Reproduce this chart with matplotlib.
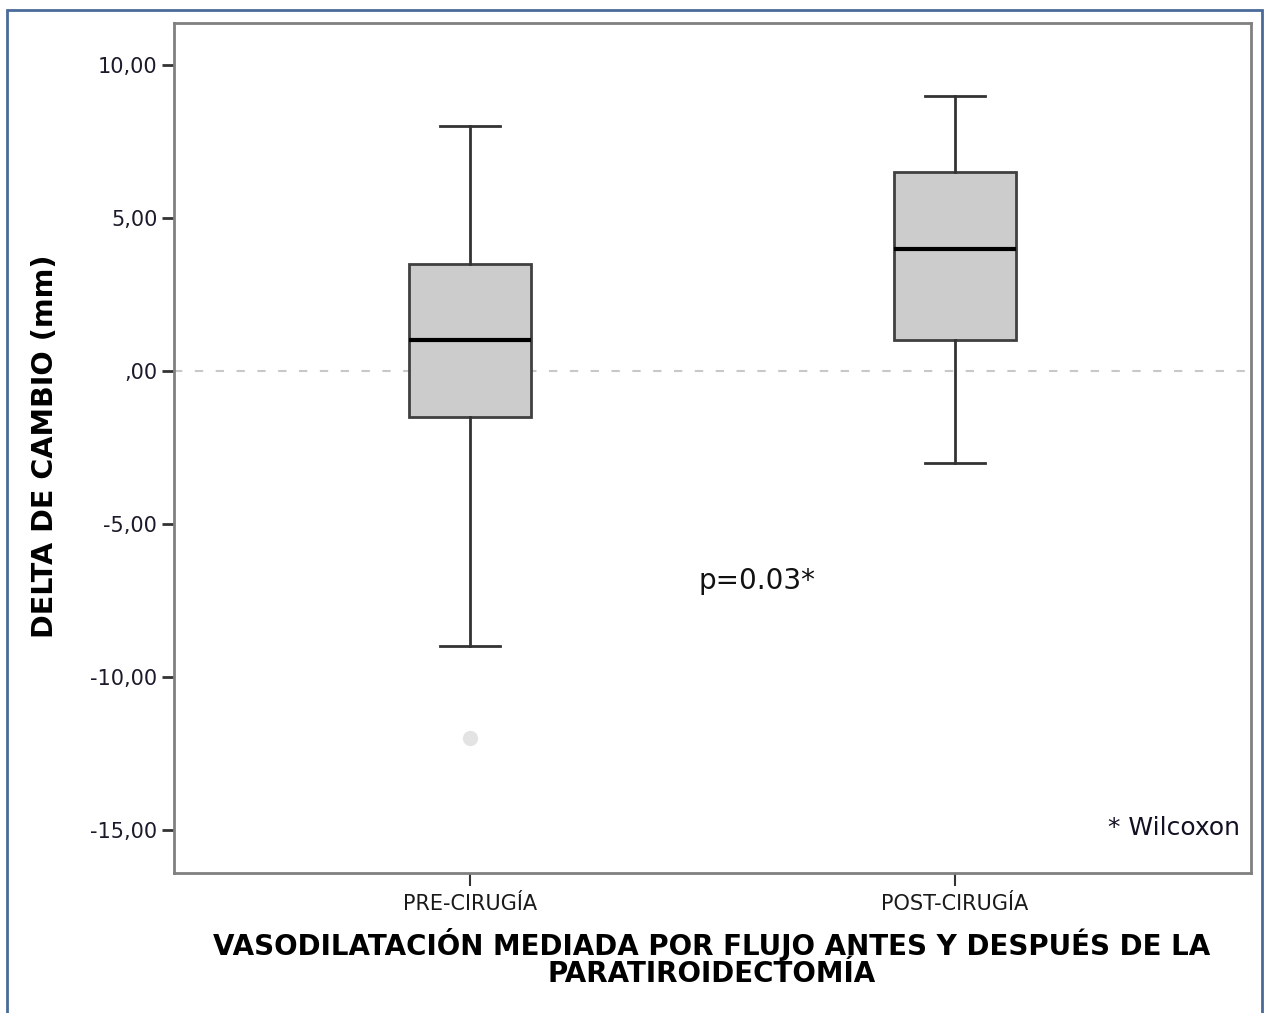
import matplotlib
matplotlib.use("Agg")
import matplotlib.pyplot as plt
from matplotlib.patches import Rectangle

# values
groups = ['PRE-CIRUGÍA', 'POST-CIRUGÍA']
q1 = [-1.5, 1.0]
med = [1.0, 4.0]
q3 = [3.5, 6.5]
whis_lo = [-9.0, -3.0]
whis_hi = [8.0, 9.0]
outliers = [[-12.0], []]

yticks = [10, 5, 0, -5, -10, -15]
ytick_labels = ['10,00', '5,00', ',00', '-5,00', '-10,00', '-15,00']

fig = plt.figure(figsize=(12.66, 10.13), dpi=100)
ax = fig.add_axes([174/1266, 1 - 873/1013, (1251-174)/1266, (873-23)/1013])

stats = []
for i in range(len(groups)):
    stats.append({'label': groups[i], 'q1': q1[i], 'med': med[i], 'q3': q3[i],
                  'whislo': whis_lo[i], 'whishi': whis_hi[i], 'fliers': outliers[i]})

ax.bxp(stats, positions=[0, 1], widths=0.25, patch_artist=True,
       boxprops=dict(facecolor='#cccccc', edgecolor='#404040', linewidth=2),
       medianprops=dict(color='black', linewidth=3),
       whiskerprops=dict(color='#333333', linewidth=2),
       capprops=dict(color='#333333', linewidth=2),
       flierprops=dict(marker='o', markersize=11, markerfacecolor='#e3e3e3',
                       markeredgecolor='none'))

ax.axhline(0, color='#c8c8c8', linewidth=1.5, linestyle=(0, (4, 6)), zorder=0)

ax.set_xlim(-0.61, 1.61)
ax.set_ylim(-16.4, 11.37)
ax.set_yticks(yticks)
ax.set_yticklabels(ytick_labels)
ax.set_xticks([0, 1])
ax.set_xticklabels(groups)
ax.tick_params(axis='y', length=9, width=2, color='#333333', pad=3,
               labelsize=15, labelcolor='#1a1a2a')
ax.tick_params(axis='x', length=9, width=1.5, color='#333333', pad=6,
               labelsize=15, labelcolor='#1a1a1a')
for s in ax.spines.values():
    s.set_color('#808080')
    s.set_linewidth(2)

ax.text(0.592, -6.86, 'p=0.03*', fontsize=20, ha='center', va='center',
        color='#111111')
ax.text(0.99, 0.053, '* Wilcoxon', transform=ax.transAxes, fontsize=18,
        ha='right', va='center', color='#111122')

fig.text(45/1266, 1 - 446/1013, 'DELTA DE CAMBIO (mm)', rotation=90,
         fontsize=20.6, fontweight='bold', ha='center', va='center')
fig.text(712/1266, 1 - 958/1013,
         'VASODILATACIÓN MEDIADA POR FLUJO ANTES Y DESPUÉS DE LA\nPARATIROIDECTOMÍA',
         fontsize=20, fontweight='bold', ha='center', va='center',
         multialignment='center', linespacing=0.92)

# outer frame of the exported chart
fig.patches.append(Rectangle((7/1266, -0.05), (1262-7)/1266, 1 - 10/1013 + 0.05,
                             transform=fig.transFigure, fill=False,
                             edgecolor='#4a6a9a', linewidth=2))

fig.savefig('out.png', dpi=100)
